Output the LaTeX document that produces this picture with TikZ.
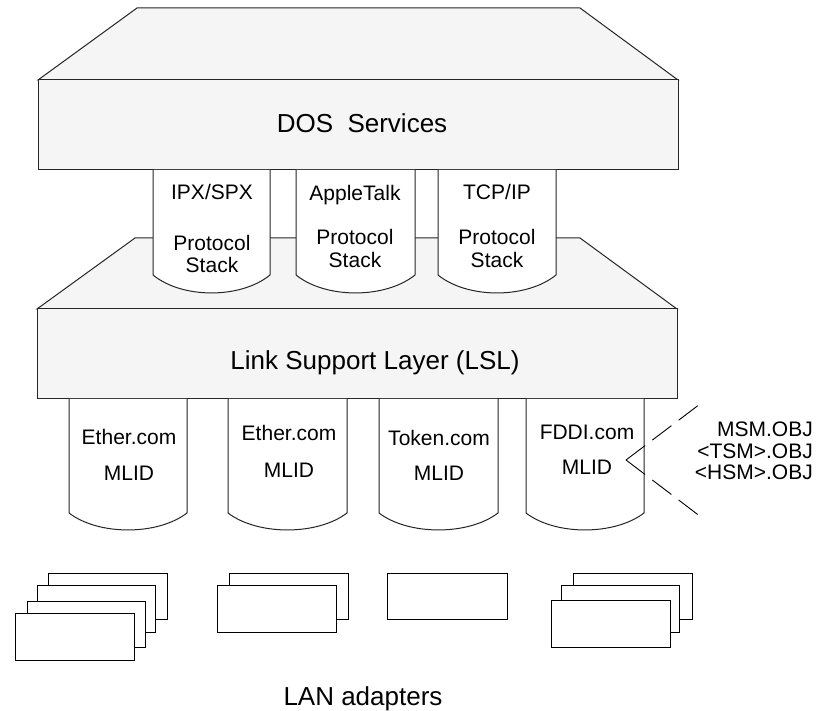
\documentclass[tikz,border=0pt]{standalone}
\usepackage{fontspec}
\setmainfont{Liberation Sans}
\definecolor{layerfill}{RGB}{245,245,245}
\newcommand{\mycyl}[5]{%
  \draw[stackshape] (#1,#3) -- (#1,#4) .. controls ({#1+0.25*(#2-#1)},{#4+1.33*#5}) and ({#2-0.25*(#2-#1)},{#4+1.33*#5}) .. (#2,#4) -- (#2,#3);}
\begin{document}
\begin{tikzpicture}[x=1pt,y=-1pt,
  layer/.style={fill=layerfill,draw=black!85,line width=1pt,line join=miter},
  stackshape/.style={fill=white,draw=black!85,line width=1pt},
  card/.style={fill=white,draw=black,line width=1pt},
  big/.style={font=\fontsize{26}{30}\selectfont,inner sep=0pt,anchor=base},
  small/.style={font=\fontsize{21}{24}\selectfont,inner sep=0pt,anchor=base},
  objlabel/.style={small,anchor=base east},
  dashline/.style={draw=black,line width=0.9pt,dash pattern=on 24pt off 9pt}]
\useasboundingbox (0,0) rectangle (820,711);

% DOS Services layer
\draw[layer] (137,8) -- (580,8) -- (678,80) -- (38,80) -- cycle;
\draw[layer] (38,80) rectangle (678,170);
\node[big] (dos) at (362,133) {DOS\ \ Services};

% LSL top face
\draw[layer] (135,238) -- (580,238) -- (677,309) -- (37,309) -- cycle;

% protocol stacks
\mycyl{153}{270}{170}{275}{18}
\mycyl{296}{415}{170}{275}{18}
\mycyl{438}{556}{170}{275}{18}
\node[small] (ipx) at (212,200) {IPX/SPX};
\node[small] (ipxp) at (212,251) {Protocol};
\node[small] (ipxs) at (212,273) {Stack};
\node[small] (at) at (355,201) {AppleTalk};
\node[small] (atp) at (355,245) {Protocol};
\node[small] (ats) at (355,268) {Stack};
\node[small] (tcp) at (497,200) {TCP/IP};
\node[small] (tcpp) at (497,245) {Protocol};
\node[small] (tcps) at (497,268) {Stack};

% LSL box
\draw[layer] (37,309) rectangle (677,399);
\node[big] (lsl) at (375,370) {Link Support Layer (LSL)};

% MLIDs
\mycyl{69}{187}{399}{513}{17}
\mycyl{228}{347}{399}{513}{17}
\mycyl{379}{498}{399}{513}{17}
\mycyl{526}{644}{399}{513}{17}
\node[small] (e1) at (129,445) {Ether.com};
\node[small] (e1m) at (129,480) {MLID};
\node[small] (e2) at (289,441) {Ether.com};
\node[small] (e2m) at (289,477) {MLID};
\node[small] (tk) at (439,446) {Token.com};
\node[small] (tkm) at (439,481) {MLID};
\node[small] (fd) at (587,440) {FDDI.com};
\node[small] (fdm) at (587,475) {MLID};

% object files
\coordinate (apex) at (626,460);
\coordinate (dtop) at (704,401);
\coordinate (dbot) at (701,517);
\draw[dashline] (apex) -- (dtop);
\draw[dashline] (apex) -- (dbot);
\node[objlabel] (msm) at (813,437) {MSM.OBJ};
\node[objlabel] (tsm) at (813,458) {<TSM>.OBJ};
\node[objlabel] (hsm) at (813,479) {<HSM>.OBJ};

% LAN adapters
\draw[card] (48,573) rectangle (167,619);
\draw[card] (37,585) rectangle (155,632);
\draw[card] (27,601) rectangle (145,647);
\draw[card] (15,613) rectangle (134,660);
\draw[card] (229,573) rectangle (348,619);
\draw[card] (217,585) rectangle (336,632);
\draw[card] (387,573) rectangle (507,619);
\draw[card] (573,573) rectangle (692,619);
\draw[card] (561,585) rectangle (679,632);
\draw[card] (551,600) rectangle (670,647);
\node[big] (lan) at (363,705) {LAN adapters};
\end{tikzpicture}
\end{document}
